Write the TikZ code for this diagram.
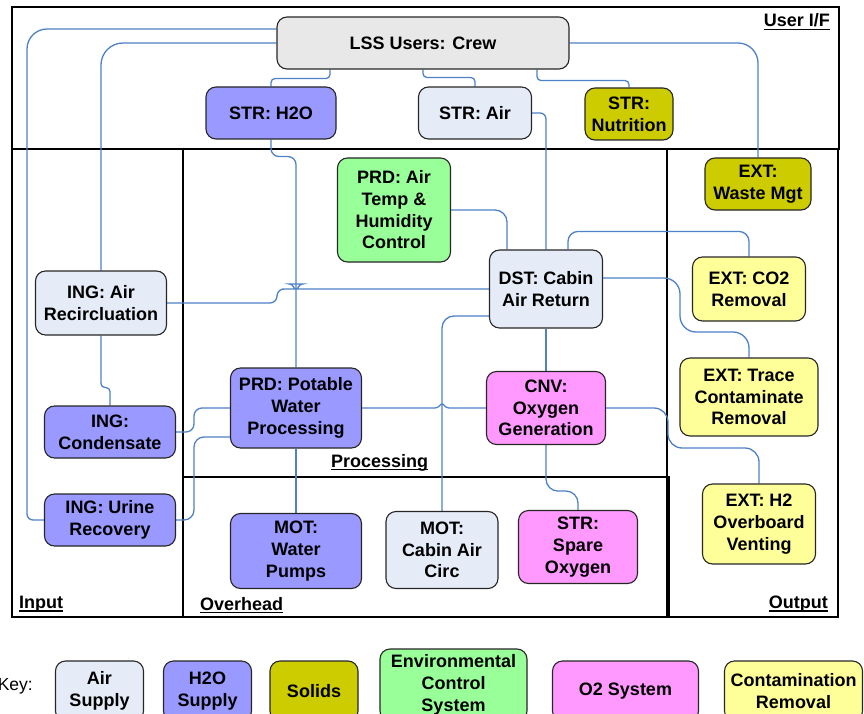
\documentclass[tikz,border=0pt]{standalone}
\usepackage{fontspec}
\setmainfont{Liberation Sans}
\pgfdeclarelayer{bg}
\pgfsetlayers{bg,main}
\definecolor{linkblue}{RGB}{79,129,199}
\definecolor{airc}{RGB}{230,236,247}
\definecolor{watc}{RGB}{153,153,255}
\definecolor{solc}{RGB}{204,204,0}
\definecolor{envc}{RGB}{153,255,153}
\definecolor{oxc}{RGB}{255,153,255}
\definecolor{conc}{RGB}{255,255,153}
\definecolor{crewc}{RGB}{232,232,232}
\begin{document}
\begin{tikzpicture}[x=1pt,y=-1pt,
  box/.style={draw=black!85, line width=1.1pt, rounded corners=10pt, align=center,
    inner sep=0pt, font=\bfseries\fontsize{18}{21.7}\selectfont},
  conn/.style={draw=linkblue, line width=1.3pt},
  frame/.style={draw=black, line width=1.5pt},
  sect/.style={inner sep=0pt, font=\bfseries\fontsize{18}{21.7}\selectfont},
  cAir/.style={fill=airc}, cWat/.style={fill=watc}, cSol/.style={fill=solc},
  cEnv/.style={fill=envc}, cOx/.style={fill=oxc}, cCon/.style={fill=conc},
  cCrew/.style={fill=crewc}]
\useasboundingbox (0,0) rectangle (864,714);
% section labels
\node[sect, anchor=base east] (lUI) at (830,27) {User I/F};
\node[sect, anchor=base west] (lIn) at (19,608.5) {Input};
\node[sect, anchor=base west] (lOv) at (200,610) {Overhead};
\node[sect, anchor=base west] (lPr) at (331,467) {Processing};
\node[sect, anchor=base east] (lOut) at (828,608.5) {Output};
\foreach \l in {lUI,lIn,lOv,lPr,lOut}
  \draw[line width=1.2pt] ([yshift=-2.5pt]\l.base west) -- ([yshift=-2.5pt]\l.base east);
% nodes
\node[box,cCrew,minimum width=292pt,minimum height=52pt] (crew) at (423,43) {LSS Users: Crew};
\node[box,cWat,minimum width=130pt,minimum height=52pt] (h2o) at (271,113) {STR: H2O};
\node[box,cAir,minimum width=113pt,minimum height=52pt] (air) at (475,113) {STR: Air};
\node[box,cSol,minimum width=88pt,minimum height=52pt] (nutr) at (629,114) {STR:\\Nutrition};
\node[box,cSol,minimum width=106pt,minimum height=52pt] (waste) at (758,184) {EXT:\\Waste Mgt};
\node[box,cEnv,minimum width=113pt,minimum height=104pt] (atemp) at (394,210) {PRD: Air\\Temp \&\\Humidity\\Control};
\node[box,cAir,minimum width=113pt,minimum height=78pt] (dst) at (546,289) {DST: Cabin\\Air Return};
\node[box,cCon,minimum width=113pt,minimum height=64pt] (co2) at (749,289) {EXT: CO2\\Removal};
\node[box,cCon,minimum width=138pt,minimum height=78pt] (trace) at (749,397) {EXT: Trace\\Contaminate\\Removal};
\node[box,cCon,minimum width=113pt,minimum height=80pt] (h2v) at (759,524) {EXT: H2\\Overboard\\Venting};
\node[box,cOx,minimum width=119pt,minimum height=73pt] (cnv) at (546,408) {CNV:\\Oxygen\\Generation};
\node[box,cOx,minimum width=119pt,minimum height=73pt] (spare) at (578,547) {STR:\\Spare\\Oxygen};
\node[box,cAir,minimum width=112pt,minimum height=77pt] (cabc) at (442,550) {MOT:\\Cabin Air\\Circ};
\node[box,cWat,minimum width=131pt,minimum height=75pt] (pumps) at (296,551) {MOT:\\Water\\Pumps};
\node[box,cWat,minimum width=131pt,minimum height=80pt] (pot) at (296,408) {PRD: Potable\\Water\\Processing};
\node[box,cAir,minimum width=131pt,minimum height=64pt] (recirc) at (101,303) {ING: Air\\Recircluation};
\node[box,cWat,minimum width=131pt,minimum height=52pt] (cond) at (110,432) {ING:\\Condensate};
\node[box,cWat,minimum width=131pt,minimum height=52pt] (urine) at (110,520) {ING: Urine\\Recovery};
% frames and connectors behind the nodes
\begin{pgfonlayer}{bg}
\draw[frame] (12,7) rectangle (839,149);
\draw[frame] (12,149) rectangle (183,617);
\draw[frame] (183,149) rectangle (667,477);
\draw[frame] (183,477) rectangle (669,617);
\draw[frame] (667,149) rectangle (838,617);
\draw[conn] ([yshift=14pt]crew.west) [rounded corners=20pt] -| (27,300) [rounded corners=6pt] |- (urine.west);
\draw[conn, rounded corners=22pt] (crew.west) -| (recirc.north);
\draw[conn, rounded corners=4pt] ([xshift=-93pt]crew.south) -- ++(0,9) -| (h2o.north);
\draw[conn, rounded corners=4pt] (crew.south) -- ++(0,8) -| (air.north);
\draw[conn, rounded corners=4pt] ([xshift=114pt]crew.south) -- ++(0,11) -| (nutr.north);
\draw[conn, rounded corners=20pt] (crew.east) -| (waste.north);
\draw[conn, rounded corners=8pt] (h2o.south) -- ++(0,17) -| (pot.north);
\draw[conn, rounded corners=6pt] (air.east) -| (dst.north);
\draw[conn, rounded corners=12pt] (atemp.east) -| ([xshift=-39pt]dst.north);
\draw[conn, rounded corners=10pt] ([xshift=22pt]dst.north) -- ++(0,-18) -| (co2.north);
\draw[conn, rounded corners=16pt] ([yshift=11pt]dst.east) -| (680,332) -| (trace.north);
\draw[conn, rounded corners=7pt] (recirc.east) -| (277,289) -- (289,289)
  .. controls (293,289) and (294,284) .. (296,284)
  .. controls (298,284) and (299,289) .. (303,289) -- (dst.west);
\draw[conn, rounded corners=12pt] ([yshift=-27pt]dst.west) -| (cabc.north);
\draw[conn] (dst.south) -- (cnv.north);
\draw[conn] (pot.east) -- (435,408)
  .. controls (439,408) and (440,404) .. (442,404)
  .. controls (444,404) and (445,408) .. (449,408) -- (cnv.west);
\draw[conn, rounded corners=14pt] (cnv.east) -| (668,448) -| (h2v.north);
\draw[conn, rounded corners=12pt] (cnv.south) -- ++(0,46) -| (spare.north);
\draw[conn, rounded corners=4pt] (recirc.south) -- ++(0,52) -| (cond.north);
\draw[conn, rounded corners=8pt] (cond.east) -| (194,408) -- (pot.west);
\draw[conn, rounded corners=10pt] (urine.east) -| (194,437) -- ([yshift=-29pt]pot.west);
\draw[conn] (pot.south) -- (pumps.north);
\end{pgfonlayer}
% legend
\node[inner sep=0pt, anchor=base east, font=\fontsize{17.5}{21}\selectfont] (key) at (33,690) {Key:};
\node[box,cAir,minimum width=88pt,minimum height=60pt] (kair) at (99.5,691) {Air\\Supply};
\node[box,cWat,minimum width=88pt,minimum height=60pt] (kwat) at (207.5,691) {H2O\\Supply};
\node[box,cSol,minimum width=88pt,minimum height=60pt] (ksol) at (314,691) {Solids};
\node[box,cEnv,minimum width=147pt,minimum height=72pt] (kenv) at (453.5,685) {Environmental\\Control\\System};
\node[box,cOx,minimum width=146pt,minimum height=60pt] (kox) at (625.5,691) {O2 System};
\node[box,cCon,minimum width=138pt,minimum height=60pt] (kcon) at (793.5,691) {Contamination\\Removal};
\end{tikzpicture}
\end{document}
